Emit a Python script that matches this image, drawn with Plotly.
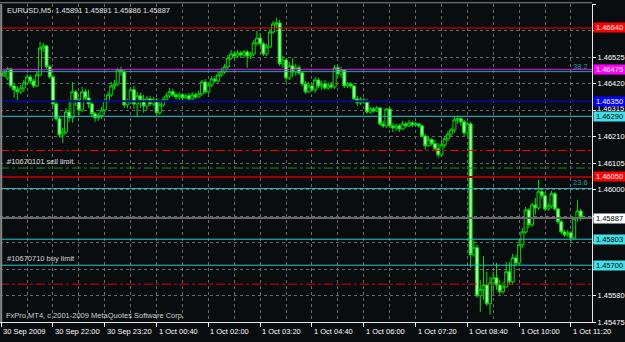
import pandas as pd
import plotly.graph_objects as go

# ---------------- data ----------------
header_text = "EURUSD,M5  1.45891 1.45891 1.45886 1.45887"
copyright_text = "FxPro MT4, c 2001-2009 MetaQuotes Software Corp."

times = pd.date_range("2009-09-30 20:40", periods=181, freq="5min")

opens = [
    1.46462, 1.46450, 1.46442, 1.46478, 1.46410, 1.46395, 1.46387, 1.46402, 1.46422, 1.46446,
    1.46430, 1.46410, 1.46454, 1.46561, 1.46569, 1.46486, 1.46446, 1.46339, 1.46280, 1.46216,
    1.46228, 1.46307, 1.46284, 1.46387, 1.46355, 1.46315, 1.46387, 1.46363, 1.46339, 1.46300,
    1.46284, 1.46292, 1.46315, 1.46351, 1.46375, 1.46410, 1.46418, 1.46474, 1.46466, 1.46335,
    1.46351, 1.46395, 1.46339, 1.46371, 1.46355, 1.46331, 1.46359, 1.46339, 1.46355, 1.46304,
    1.46335, 1.46355, 1.46371, 1.46387, 1.46375, 1.46367, 1.46375, 1.46363, 1.46371, 1.46359,
    1.46375, 1.46367, 1.46379, 1.46426, 1.46387, 1.46414, 1.46438, 1.46430, 1.46454, 1.46466,
    1.46486, 1.46521, 1.46537, 1.46529, 1.46541, 1.46533, 1.46545, 1.46529, 1.46537, 1.46581,
    1.46600, 1.46577, 1.46537, 1.46565, 1.46624, 1.46656, 1.46660, 1.46498, 1.46513, 1.46442,
    1.46490, 1.46466, 1.46482, 1.46462, 1.46418, 1.46387, 1.46410, 1.46395, 1.46434, 1.46410,
    1.46418, 1.46402, 1.46414, 1.46406, 1.46482, 1.46458, 1.46474, 1.46410, 1.46418, 1.46410,
    1.46359, 1.46343, 1.46355, 1.46347, 1.46307, 1.46319, 1.46311, 1.46323, 1.46260, 1.46252,
    1.46319, 1.46252, 1.46244, 1.46252, 1.46240, 1.46260, 1.46252, 1.46264, 1.46256, 1.46260,
    1.46252, 1.46212, 1.46173, 1.46197, 1.46181, 1.46161, 1.46137, 1.46177, 1.46201, 1.46220,
    1.46236, 1.46276, 1.46280, 1.46268, 1.46224, 1.46260, 1.45741, 1.45769, 1.45579, 1.45603,
    1.45622, 1.45547, 1.45630, 1.45650, 1.45622, 1.45595, 1.45614, 1.45674, 1.45634, 1.45729,
    1.45709, 1.45781, 1.45832, 1.45919, 1.45860, 1.45939, 1.45927, 1.45991, 1.45975, 1.45923,
    1.45935, 1.45983, 1.45923, 1.45872, 1.45832, 1.45820, 1.45828, 1.45808, 1.45884, 1.45915,
    1.45891,
]

closes = [
    1.46450, 1.46462, 1.46478, 1.46410, 1.46395, 1.46387, 1.46402, 1.46422, 1.46446, 1.46430,
    1.46410, 1.46454, 1.46561, 1.46569, 1.46486, 1.46446, 1.46339, 1.46280, 1.46216, 1.46228,
    1.46307, 1.46284, 1.46387, 1.46355, 1.46315, 1.46387, 1.46363, 1.46339, 1.46300, 1.46284,
    1.46292, 1.46315, 1.46351, 1.46375, 1.46410, 1.46418, 1.46474, 1.46466, 1.46335, 1.46351,
    1.46395, 1.46339, 1.46371, 1.46355, 1.46331, 1.46359, 1.46339, 1.46355, 1.46304, 1.46335,
    1.46355, 1.46371, 1.46387, 1.46375, 1.46367, 1.46375, 1.46363, 1.46371, 1.46359, 1.46375,
    1.46367, 1.46379, 1.46426, 1.46387, 1.46414, 1.46438, 1.46430, 1.46454, 1.46466, 1.46486,
    1.46521, 1.46537, 1.46529, 1.46541, 1.46533, 1.46545, 1.46529, 1.46537, 1.46581, 1.46600,
    1.46577, 1.46537, 1.46565, 1.46624, 1.46656, 1.46660, 1.46498, 1.46513, 1.46442, 1.46490,
    1.46466, 1.46482, 1.46462, 1.46418, 1.46387, 1.46410, 1.46395, 1.46434, 1.46410, 1.46418,
    1.46402, 1.46414, 1.46406, 1.46482, 1.46458, 1.46474, 1.46410, 1.46418, 1.46410, 1.46359,
    1.46343, 1.46355, 1.46347, 1.46307, 1.46319, 1.46311, 1.46323, 1.46260, 1.46252, 1.46319,
    1.46252, 1.46244, 1.46252, 1.46240, 1.46260, 1.46252, 1.46264, 1.46256, 1.46260, 1.46252,
    1.46212, 1.46173, 1.46197, 1.46181, 1.46161, 1.46137, 1.46177, 1.46201, 1.46220, 1.46236,
    1.46276, 1.46280, 1.46268, 1.46224, 1.46260, 1.45741, 1.45769, 1.45579, 1.45603, 1.45622,
    1.45547, 1.45630, 1.45650, 1.45622, 1.45595, 1.45614, 1.45674, 1.45634, 1.45729, 1.45709,
    1.45781, 1.45832, 1.45919, 1.45860, 1.45939, 1.45927, 1.45991, 1.45975, 1.45923, 1.45935,
    1.45983, 1.45923, 1.45872, 1.45832, 1.45820, 1.45828, 1.45808, 1.45884, 1.45915, 1.45891,
    1.45887,
]

highs = [
    1.46474, 1.46474, 1.46486, 1.46482, 1.46418, 1.46410, 1.46414, 1.46434, 1.46458, 1.46454,
    1.46438, 1.46466, 1.46585, 1.46581, 1.46573, 1.46494, 1.46454, 1.46347, 1.46288, 1.46244,
    1.46323, 1.46355, 1.46426, 1.46395, 1.46363, 1.46406, 1.46399, 1.46395, 1.46347, 1.46307,
    1.46304, 1.46327, 1.46363, 1.46387, 1.46426, 1.46434, 1.46482, 1.46486, 1.46474, 1.46359,
    1.46406, 1.46410, 1.46387, 1.46383, 1.46375, 1.46371, 1.46371, 1.46367, 1.46363, 1.46355,
    1.46367, 1.46383, 1.46402, 1.46399, 1.46383, 1.46387, 1.46383, 1.46379, 1.46383, 1.46387,
    1.46383, 1.46391, 1.46434, 1.46438, 1.46426, 1.46450, 1.46450, 1.46466, 1.46482, 1.46498,
    1.46533, 1.46553, 1.46549, 1.46553, 1.46549, 1.46553, 1.46553, 1.46545, 1.46593, 1.46628,
    1.46620, 1.46585, 1.46577, 1.46636, 1.46668, 1.46680, 1.46672, 1.46529, 1.46521, 1.46505,
    1.46521, 1.46498, 1.46494, 1.46466, 1.46430, 1.46426, 1.46422, 1.46446, 1.46442, 1.46430,
    1.46434, 1.46426, 1.46426, 1.46494, 1.46494, 1.46486, 1.46478, 1.46426, 1.46426, 1.46414,
    1.46371, 1.46367, 1.46363, 1.46359, 1.46327, 1.46327, 1.46331, 1.46327, 1.46272, 1.46323,
    1.46327, 1.46264, 1.46260, 1.46260, 1.46272, 1.46268, 1.46276, 1.46272, 1.46268, 1.46264,
    1.46256, 1.46220, 1.46208, 1.46205, 1.46197, 1.46185, 1.46197, 1.46212, 1.46232, 1.46244,
    1.46288, 1.46292, 1.46288, 1.46276, 1.46268, 1.46268, 1.45797, 1.45781, 1.45642, 1.45737,
    1.45674, 1.45654, 1.45674, 1.45709, 1.45642, 1.45634, 1.45713, 1.45713, 1.45745, 1.45741,
    1.45801, 1.45848, 1.45931, 1.45927, 1.45947, 1.45967, 1.46038, 1.46007, 1.45991, 1.45947,
    1.45995, 1.45991, 1.45927, 1.45880, 1.45840, 1.45840, 1.45836, 1.45892, 1.45959, 1.45923,
    1.45891,
]

lows = [
    1.46442, 1.46446, 1.46434, 1.46402, 1.46363, 1.46355, 1.46379, 1.46387, 1.46414, 1.46418,
    1.46402, 1.46406, 1.46450, 1.46545, 1.46478, 1.46438, 1.46331, 1.46272, 1.46205, 1.46185,
    1.46220, 1.46268, 1.46264, 1.46331, 1.46292, 1.46307, 1.46351, 1.46323, 1.46288, 1.46268,
    1.46272, 1.46280, 1.46307, 1.46343, 1.46367, 1.46395, 1.46410, 1.46450, 1.46323, 1.46323,
    1.46339, 1.46319, 1.46288, 1.46323, 1.46304, 1.46315, 1.46331, 1.46331, 1.46292, 1.46296,
    1.46327, 1.46347, 1.46363, 1.46367, 1.46355, 1.46355, 1.46351, 1.46359, 1.46351, 1.46355,
    1.46359, 1.46363, 1.46371, 1.46379, 1.46379, 1.46406, 1.46422, 1.46426, 1.46446, 1.46458,
    1.46478, 1.46513, 1.46521, 1.46521, 1.46525, 1.46521, 1.46482, 1.46517, 1.46529, 1.46569,
    1.46569, 1.46529, 1.46529, 1.46561, 1.46616, 1.46640, 1.46490, 1.46482, 1.46426, 1.46434,
    1.46446, 1.46450, 1.46454, 1.46410, 1.46379, 1.46383, 1.46387, 1.46383, 1.46402, 1.46395,
    1.46395, 1.46395, 1.46399, 1.46399, 1.46446, 1.46442, 1.46402, 1.46402, 1.46399, 1.46355,
    1.46331, 1.46335, 1.46339, 1.46300, 1.46300, 1.46304, 1.46307, 1.46252, 1.46244, 1.46244,
    1.46244, 1.46228, 1.46232, 1.46228, 1.46236, 1.46244, 1.46248, 1.46248, 1.46248, 1.46244,
    1.46205, 1.46157, 1.46169, 1.46173, 1.46153, 1.46125, 1.46129, 1.46165, 1.46189, 1.46208,
    1.46224, 1.46260, 1.46252, 1.46212, 1.46212, 1.45690, 1.45733, 1.45571, 1.45515, 1.45563,
    1.45539, 1.45504, 1.45595, 1.45603, 1.45583, 1.45587, 1.45611, 1.45622, 1.45622, 1.45698,
    1.45702, 1.45769, 1.45824, 1.45848, 1.45852, 1.45900, 1.45919, 1.45963, 1.45915, 1.45915,
    1.45927, 1.45915, 1.45864, 1.45824, 1.45812, 1.45812, 1.45793, 1.45801, 1.45872, 1.45876,
    1.45886,
]

# price axis grid values and their visible labels (covered/moved ones are blank)
y_ticks = [1.46735, 1.46630, 1.46525, 1.46420, 1.46315, 1.46210, 1.46105,
           1.46000, 1.45895, 1.45790, 1.45685, 1.45580, 1.45475]
y_tick_text = ["1.46735", "", "1.46525", "1.46420", "", "1.46210", "1.46105",
               "1.46000", "", "", "", "1.45580", "1.45475"]
# tick label squeezed just above the 1.46290 tag
squeezed_tick = 1.46315

# time axis labels (every 16 bars)
x_label_text = ["30 Sep 2009", "30 Sep 22:00", "30 Sep 23:20", "1 Oct 00:40",
                "1 Oct 02:00", "1 Oct 03:20", "1 Oct 04:40", "1 Oct 06:00",
                "1 Oct 07:20", "1 Oct 08:40", "1 Oct 10:00", "1 Oct 11:20"]
x_label_times = list(times[::16])
x_minor_times = list(times[8::16])

# horizontal levels on the chart
level_prices = [1.46640, 1.46475, 1.46467, 1.46350, 1.46290, 1.46155, 1.46085,
                1.46050, 1.46004, 1.45887, 1.45803, 1.45700, 1.45625]
level_colors = ["#ff0000", "#ff00ff", "#20a8a8", "#08088c", "#22c8cc", "#ff0000",
                "#109010", "#a00000", "#22c0c4", "#6a6a6a", "#22c8cc", "#22c8cc", "#e00000"]
level_widths = [1, 1, 1, 2, 1, 1, 1, 2, 1, 2, 1, 1, 1]
level_dash = ["solid", "solid", "solid", "solid", "solid", "dashdot", "dashdot",
              "solid", "solid", "solid", "solid", "solid", "dashdot"]

# colored price tags on the price scale
tag_prices = [1.46640, 1.46475, 1.46350, 1.46290, 1.46050, 1.45887, 1.45803, 1.45700]
tag_bg = ["#ff0000", "#ff00ff", "#0000ff", "#40e0e8", "#ff0000", "#ffffff", "#40e0e8", "#40e0e8"]
tag_fg = ["#ffffff", "#ffffff", "#ffffff", "#000000", "#ffffff", "#000000", "#000000", "#000000"]

order_labels = ["#10670101 sell limit", "#10670710 buy limit"]
order_prices = [1.46085, 1.45700]
fib_labels = ["38.2", "23.6"]
fib_prices = [1.46467, 1.46004]

# ---------------- figure ----------------
BG = "#0a0d10"
GRID = "#6a6a6a"
FONT = "Liberation Sans"
FS = 7.5

fig = go.Figure()
fig.add_trace(go.Candlestick(
    x=times, open=opens, high=highs, low=lows, close=closes,
    increasing=dict(line=dict(color="#00e000", width=1), fillcolor="#000000"),
    decreasing=dict(line=dict(color="#00e000", width=1), fillcolor="#a0ffa0"),
    whiskerwidth=0, hoverinfo="skip", showlegend=False,
))

shapes = []
for p, c, w, d in zip(level_prices, level_colors, level_widths, level_dash):
    shapes.append(dict(type="line", xref="paper", yref="y", x0=0, x1=1, y0=p, y1=p,
                       line=dict(color=c, width=w, dash=d), layer="above"))
# chart frame pieces (left gray bar, top gray line)
shapes.append(dict(type="line", xref="paper", yref="paper", x0=0.002, x1=0.002, y0=0, y1=1,
                   line=dict(color="#8a8a8a", width=2)))
shapes.append(dict(type="line", xref="paper", yref="paper", x0=0, x1=1, y0=1.004, y1=1.004,
                   line=dict(color="#8a8a8a", width=1)))

ann = []
ann.append(dict(x=1, xref="paper", y=squeezed_tick, yref="y", xanchor="left", yanchor="middle",
                xshift=3, yshift=2, text=f"{squeezed_tick:.5f}", showarrow=False,
                font=dict(family=FONT, size=FS, color="#ffffff")))
for p, bg, fg in zip(tag_prices, tag_bg, tag_fg):
    ann.append(dict(x=1, xref="paper", y=p, yref="y", xanchor="left", yanchor="middle",
                    xshift=1, text=f"{p:.5f}", showarrow=False, bgcolor=bg, borderpad=0,
                    width=31, align="center",
                    font=dict(family=FONT, size=FS, color=fg)))
for t, lab in zip(x_label_times, x_label_text):
    ann.append(dict(x=t, xref="x", y=0, yref="paper", xanchor="left", yanchor="top",
                    xshift=0, yshift=-3, text=lab, showarrow=False,
                    font=dict(family=FONT, size=FS, color="#ffffff")))
for lab, p in zip(order_labels, order_prices):
    ann.append(dict(x=0, xref="paper", y=p, yref="y", xanchor="left", yanchor="bottom",
                    xshift=5, yshift=0, text=lab, showarrow=False,
                    font=dict(family=FONT, size=FS, color="#d8d8d8")))
for lab, p in zip(fib_labels, fib_prices):
    ann.append(dict(x=1, xref="paper", y=p, yref="y", xanchor="right", yanchor="bottom",
                    xshift=-2, yshift=-1, text=lab, showarrow=False,
                    font=dict(family=FONT, size=FS, color="#1aa0a0")))
ann.append(dict(x=0, xref="paper", y=1, yref="paper", xanchor="left", yanchor="top",
                xshift=5, yshift=0, text=header_text, showarrow=False,
                font=dict(family=FONT, size=FS, color="#e0e0e0")))
ann.append(dict(x=0, xref="paper", y=0, yref="paper", xanchor="left", yanchor="bottom",
                xshift=4, yshift=0, text=copyright_text, showarrow=False,
                font=dict(family=FONT, size=FS, color="#d0d0d0")))

step = pd.Timedelta(minutes=5)
x_range = [times[0] - 0.37 * step, times[0] + 182.5 * step]

fig.update_layout(
    width=625, height=342,
    margin=dict(l=0, r=33, t=4, b=20),
    paper_bgcolor=BG, plot_bgcolor=BG,
    showlegend=False, hovermode=False,
    boxgap=0.08, boxgroupgap=0,
    shapes=shapes, annotations=ann,
    xaxis=dict(
        type="date", range=x_range, rangeslider=dict(visible=False),
        tickvals=x_label_times, showticklabels=False,
        ticks="outside", ticklen=4, tickcolor="#ffffff",
        showgrid=True, gridcolor=GRID, griddash="3px,3px", gridwidth=1,
        minor=dict(tickvals=x_minor_times, showgrid=True, gridcolor=GRID,
                   griddash="3px,3px", gridwidth=1, ticks=""),
        showline=True, linecolor="#e8e8e8", linewidth=1, zeroline=False, fixedrange=True,
    ),
    yaxis=dict(
        side="right", range=[1.45475, 1.46735],
        tickvals=y_ticks, ticktext=y_tick_text,
        ticks="outside", ticklen=3, tickcolor="#ffffff",
        tickfont=dict(family=FONT, size=FS, color="#ffffff"),
        showgrid=True, gridcolor=GRID, griddash="3px,3px", gridwidth=1,
        showline=True, linecolor="#e8e8e8", linewidth=1, zeroline=False, fixedrange=True,
    ),
)

fig.write_html("out.html")
